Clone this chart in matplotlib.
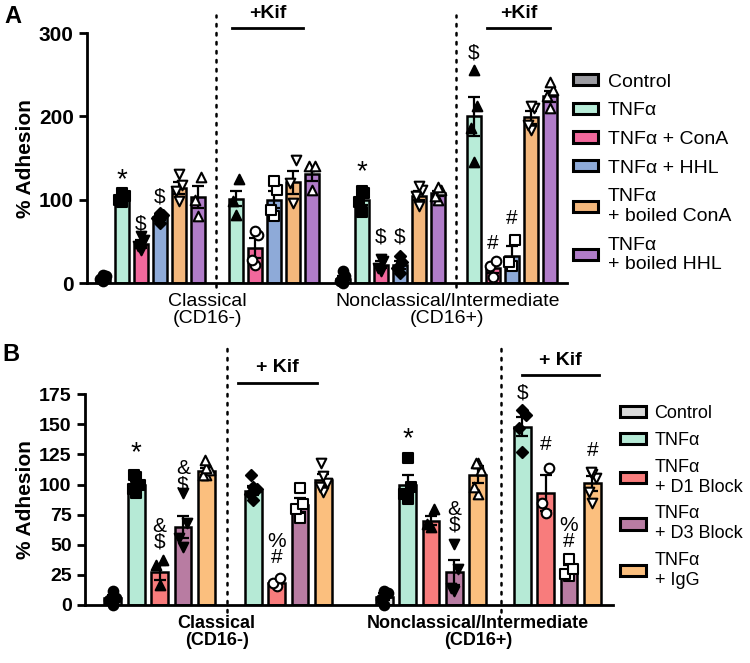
import matplotlib
matplotlib.use("Agg")
import matplotlib.pyplot as plt
from matplotlib.patches import Patch

plt.rcParams["font.family"] = ["Liberation Sans", "DejaVu Sans"]

# ---------------- Panel A data ----------------
A_LEGEND = ["Control", "TNFα", "TNFα + ConA", "TNFα + HHL",
            "TNFα\n+ boiled ConA", "TNFα\n+ boiled HHL"]
A_COLORS = ["#9c9ca2", "#b8ecd8", "#f2689c", "#8eaad8", "#f3b77c", "#b07cc8"]

# one entry per bar, left to right
A_POS = [0, 1, 2, 3, 4, 5,
         7, 8, 9, 10, 11,
         12.6, 13.6, 14.6, 15.6, 16.6, 17.6,
         19.5, 20.5, 21.5, 22.5, 23.5]
A_COND = [0, 1, 2, 3, 4, 5,
          1, 2, 3, 4, 5,
          0, 1, 2, 3, 4, 5,
          1, 2, 3, 4, 5]
A_MEAN = [5, 103, 47, 79, 114, 103,
          101, 42, 100, 121, 131,
          5, 100, 22, 22, 105, 108,
          200, 18, 32, 199, 224]
A_SEM = [2, 3, 5, 3, 7, 13,
         9, 12, 10, 14, 8,
         3, 6, 4, 5, 5, 3,
         23, 6, 12, 8, 7]
A_POINTS = [[3, 5, 8, 10], [97, 100, 105, 108], [40, 45, 52, 56], [72, 78, 82, 84],
            [98, 110, 118, 131], [80, 100, 127],
            [82, 98, 125], [22, 28, 58, 62], [80, 88, 112, 122], [96, 120, 148], [112, 140, 141],
            [0, 3, 8, 14], [85, 97, 108, 110], [14, 18, 27, 29], [12, 18, 25, 33],
            [92, 104, 112, 116], [100, 105, 112, 115],
            [145, 186, 212, 256], [7, 20, 27], [20, 25, 52], [184, 190, 210, 212],
            [210, 225, 232, 241]]
A_MARKERS = ["o", "s", "v", "D", "v", "^",
             "^", "o", "s", "v", "^",
             "o", "s", "v", "D", "v", "^",
             "^", "o", "s", "v", "^"]
A_FILLED = [1, 1, 1, 1, 0, 0,
            1, 0, 0, 0, 0,
            1, 1, 1, 1, 0, 0,
            1, 0, 0, 0, 0]
A_ANNOT = [(1, 124, "*"), (2, 71, "$"), (3, 103, "$"),
           (13.6, 133, "*"), (14.6, 55, "$"), (15.6, 55, "$"),
           (19.5, 276, "$"), (20.5, 48, "#"), (21.5, 78, "#")]
A_GROUPS = ["Classical\n(CD16-)", "Nonclassical/Intermediate\n(CD16+)"]

# ---------------- Panel B data ----------------
B_LEGEND = ["Control", "TNFα", "TNFα\n+ D1 Block", "TNFα\n+ D3 Block", "TNFα\n+ IgG"]
B_COLORS = ["#d9d9d9", "#b6ead6", "#f87c7c", "#b87ca2", "#fbbf7e"]

B_POS = [0, 1, 2, 3, 4,
         6, 7, 8, 9,
         11.6, 12.6, 13.6, 14.6, 15.6,
         17.5, 18.5, 19.5, 20.5]
B_COND = [0, 1, 2, 3, 4,
          1, 2, 3, 4,
          0, 1, 2, 3, 4,
          1, 2, 3, 4]
B_MEAN = [6, 100, 27, 65, 111,
          95, 18, 83, 104,
          7, 100, 70, 27, 108,
          148, 93, 29, 101]
B_SEM = [2, 3, 6, 9, 3,
         4, 1.5, 6, 5,
         3, 8, 4, 10, 7,
         8, 15, 4, 6]
B_POINTS = [[0, 4, 6, 12], [93, 96, 100, 106, 108], [17, 33, 37], [48, 56, 68, 93],
            [108, 108, 112, 114, 120],
            [87, 92, 96, 98, 108], [16, 18, 22], [72, 80, 84, 97], [94, 98, 101, 107, 118],
            [0, 5, 10, 12], [88, 92, 98, 122], [65, 67, 80], [12, 14, 30, 51],
            [92, 98, 112, 118, 118],
            [127, 147, 158, 162], [76, 85, 114], [24, 26, 30, 38], [85, 94, 105, 109, 110]]
B_MARKERS = ["o", "s", "^", "v", "^",
             "D", "o", "s", "v",
             "o", "s", "^", "v", "^",
             "D", "o", "s", "v"]
B_FILLED = [1, 1, 1, 1, 0,
            1, 0, 0, 0,
            1, 1, 1, 1, 0,
            1, 0, 0, 0]
B_ANNOT = [(1, 126, "*"), (2, 59, "&\n$"), (3, 106.5, "&\n$"),
           (7, 46, "%\n#"),
           (12.6, 138, "*"), (14.6, 73, "&\n$"),
           (17.5, 176, "$"), (18.5, 133, "#"), (19.5, 59.5, "%\n#"),
           (20.5, 128, "#")]
B_GROUPS = ["Classical\n(CD16-)", "Nonclassical/Intermediate\n(CD16+)"]

# small horizontal scatter of the points inside a bar
JITTER = [0, -0.15, 0.15, 0.0, -0.08]


def draw_bars(ax, pos, cond, means, sems, points, markers, filled, colors, annots,
              width=0.72, fsize=14):
    """Bars with SEM error bars, individual points and significance marks."""
    bar_colors = [colors[c] for c in cond]
    ax.bar(pos, means, width=width, color=bar_colors, edgecolor="black",
           linewidth=1.8, zorder=2)
    ax.errorbar(pos, means, yerr=sems, fmt="none", ecolor="black",
                elinewidth=1.6, capsize=4.5, capthick=1.6, zorder=3)
    for x, pts, m, f in zip(pos, points, markers, filled):
        xs = [x + JITTER[i % len(JITTER)] for i in range(len(pts))]
        ax.scatter(xs, pts, marker=m, s=48 if m != "D" else 32,
                   facecolor="black" if f else "white", edgecolor="black",
                   linewidth=1.5, zorder=4, clip_on=False)
    for x, y, s in annots:
        # the asterisk is drawn larger, like in the original figure
        size = fsize + 6 if s == "*" else fsize + 1
        ax.text(x, y, s, ha="center", va="center", fontsize=size,
                linespacing=0.78, zorder=5)


def style_axis(ax, ylim, yticks, tick_size):
    ax.set_ylim(*ylim)
    ax.set_yticks(yticks)
    for side in ["top", "right"]:
        ax.spines[side].set_visible(False)
    for side in ["left", "bottom"]:
        ax.spines[side].set_linewidth(2)
    ax.tick_params(axis="y", width=2, length=6, labelsize=tick_size)
    ax.tick_params(axis="x", length=0)
    for lab in ax.get_yticklabels():
        lab.set_fontweight("bold")
    ax.set_ylabel("% Adhesion", fontsize=15, fontweight="bold", labelpad=3)


def add_divider(ax, x, y0, y1):
    ax.plot([x, x], [y0, y1], color="black", lw=1.8, linestyle=(0, (1, 2.6)),
            dash_capstyle="round", clip_on=False, zorder=1)


def add_kif(ax, x0, x1, y_line, y_text, label):
    ax.plot([x0, x1], [y_line, y_line], color="black", lw=2, clip_on=False)
    ax.text((x0 + x1) / 2, y_text, label, ha="center", va="center",
            fontsize=14, fontweight="bold")


fig = plt.figure(figsize=(7.5, 6.63), dpi=100)

# ---------- Panel A ----------
axA = fig.add_axes([0.116, 0.573, 0.640, 0.377])
draw_bars(axA, A_POS, A_COND, A_MEAN, A_SEM, A_POINTS, A_MARKERS, A_FILLED,
          A_COLORS, A_ANNOT, width=0.74)
axA.set_xlim(-0.84, 24.4)
style_axis(axA, (0, 300), [0, 100, 200, 300], 15)
axA.set_xticks([5.47, 18.1])
axA.set_xticklabels(A_GROUPS, fontsize=14, linespacing=1.05)
axA.tick_params(axis="x", pad=7)
add_divider(axA, 5.95, -5, 322)
add_divider(axA, 18.55, -5, 322)
add_kif(axA, 6.8, 10.5, 306, 324, "+Kif")
add_kif(axA, 20.2, 23.5, 306, 324, "+Kif")

handlesA = [Patch(facecolor=c, edgecolor="black", linewidth=2.2) for c in A_COLORS]
fig.legend(handlesA, A_LEGEND, loc="upper left", bbox_to_anchor=(0.764, 0.889),
           frameon=False, fontsize=14, handlelength=1.3, handleheight=0.5,
           handletextpad=0.5, labelspacing=0.6, borderpad=0, borderaxespad=0)

# ---------- Panel B ----------
axB = fig.add_axes([0.113, 0.0875, 0.704, 0.318])
draw_bars(axB, B_POS, B_COND, B_MEAN, B_SEM, B_POINTS, B_MARKERS, B_FILLED,
          B_COLORS, B_ANNOT, width=0.72)
axB.set_xlim(-1.2, 21.37)
style_axis(axB, (0, 175), [0, 25, 50, 75, 100, 125, 150, 175], 14)
axB.set_xticks([4.44, 15.6])
axB.set_xticklabels(B_GROUPS, fontsize=13, fontweight="bold", linespacing=1.05)
axB.tick_params(axis="x", pad=7)
add_divider(axB, 4.87, -6, 216)
add_divider(axB, 16.6, -6, 218)
add_kif(axB, 5.34, 8.72, 184, 197, "+ Kif")
add_kif(axB, 17.48, 20.8, 191, 203, "+ Kif")

handlesB = [Patch(facecolor=c, edgecolor="black", linewidth=2.2) for c in B_COLORS]
fig.legend(handlesB, B_LEGEND, loc="upper left", bbox_to_anchor=(0.827, 0.389),
           frameon=False, fontsize=13, handlelength=1.4, handleheight=0.6,
           handletextpad=0.5, labelspacing=0.55, borderpad=0, borderaxespad=0)

fig.text(0.006, 0.993, "A", fontsize=17, fontweight="bold", va="top")
fig.text(0.003, 0.482, "B", fontsize=17, fontweight="bold", va="top")

fig.savefig("out.png", dpi=100)
plt.close(fig)
